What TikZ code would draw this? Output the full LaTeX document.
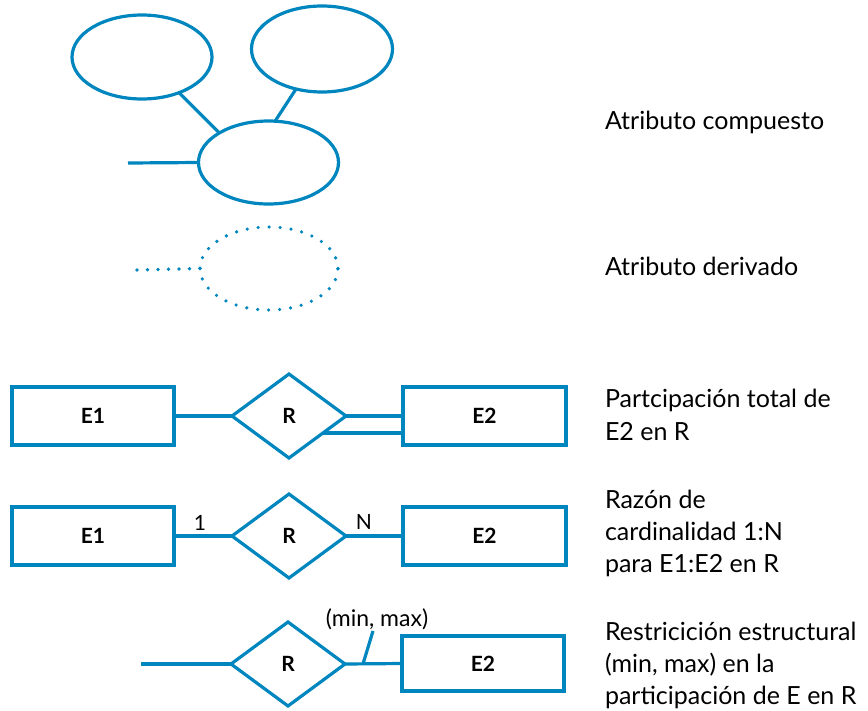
\documentclass[tikz,border=0pt]{standalone}
\usepackage{fontspec}
\setmainfont{Lato}
\usetikzlibrary{shapes.geometric,calc}
\definecolor{erblue}{RGB}{0,134,191}
\begin{document}
\begin{tikzpicture}[x=1pt,y=-1pt,line width=3.2pt,
  every node/.style={outer sep=0pt,inner sep=0pt},
  conn/.style={draw=erblue},
  attr/.style={draw=erblue,ellipse,minimum width=140pt,minimum height=84pt},
  dotted attr/.style={draw=erblue,ellipse,minimum width=138pt,minimum height=83pt,line width=3.6pt,line cap=round,dash pattern=on 0pt off 11pt},
  dotline/.style={draw=erblue,line width=3.6pt,line cap=round,dash pattern=on 0pt off 10.5pt},
  entity/.style={draw=erblue,rectangle,minimum width=162pt,minimum height=58pt,font=\bfseries\fontsize{21}{25}\selectfont},
  rel/.style={draw=erblue,diamond,minimum width=114pt,minimum height=84pt,font=\bfseries\fontsize{21}{25}\selectfont},
  desc/.style={anchor=base west,font=\fontsize{25}{30}\selectfont},
  small/.style={font=\fontsize{21}{25}\selectfont},
  minmax/.style={font=\fontsize{23}{27}\selectfont}]
\useasboundingbox (0,0) rectangle (868,710);

% composite attribute
\node[attr] (a1) at (142,57) {};
\node[attr,minimum width=141pt,minimum height=86pt] (a2) at (322,49) {};
\node[attr,minimum height=83pt] (a3) at (268.5,162.5) {};
\coordinate (a0) at (128,163);
\draw[conn] (a1.-44) -- (a3.149);
\draw[conn] (a2.-123) -- (a3.81);
\draw[conn] (a0) -- (a3.west);

% derived attribute
\node[dotted attr] (d1) at (269,268.5) {};
\coordinate (d0) at (137,270);
\draw[dotline] (d0) -- (d1.west);

% total participation
\node[entity] (p1) at (93,416) {E1};
\node[rel] (pr) at (289,416) {R};
\node[entity,minimum width=163pt] (p2) at (484.5,416) {E2};
\draw[conn] (p1.east) -- (pr.west);
\draw[conn] (pr.east) -- (p2.west);
\coordinate (pd) at ($(pr.east)!0.405!(pr.south)$);
\draw[conn] (pd) -- (p2.west |- pd);

% cardinality ratio
\node[entity] (c1) at (93,536) {E1};
\node[rel] (cr) at (289,536) {R};
\node[entity,minimum width=163pt] (c2) at (484.5,536) {E2};
\draw[conn] (c1.east) -- (cr.west);
\draw[conn] (cr.east) -- (c2.west);
\node[small] (c1l) at (200,523) {1};
\node[small] (cNl) at (364,522) {N};

% structural constraint
\node[rel] (sr) at (288,664) {R};
\node[entity,minimum width=162pt,minimum height=55pt] (s2) at (483,663.5) {E2};
\coordinate (s0) at (141,664);
\draw[conn] (s0) -- (sr.west);
\draw[conn] (sr.east) -- (s2.west);
\coordinate (st) at ($(sr.east)!0.316!(s2.west)$);
\coordinate (su) at (373,631);
\draw[conn] (st) -- (su);
\node[minmax] (sl) at (377,619) {(min, max)};

% descriptions
\node[desc] (t1) at (605,129) {Atributo compuesto};
\node[desc] (t2) at (605,275) {Atributo derivado};
\node[desc] (t3a) at (605,407) {Partcipación total de};
\node[desc] (t3b) at (605,440) {E2 en R};
\node[desc] (t4a) at (605,508) {Razón de};
\node[desc] (t4b) at (605,540) {cardinalidad 1:N};
\node[desc] (t4c) at (605,572) {para E1:E2 en R};
\node[desc] (t5a) at (605,640) {Restricición estructural};
\node[desc] (t5b) at (605,672) {(min, max) en la};
\node[desc] (t5c) at (605,704) {participación de E en R};
\end{tikzpicture}
\end{document}
